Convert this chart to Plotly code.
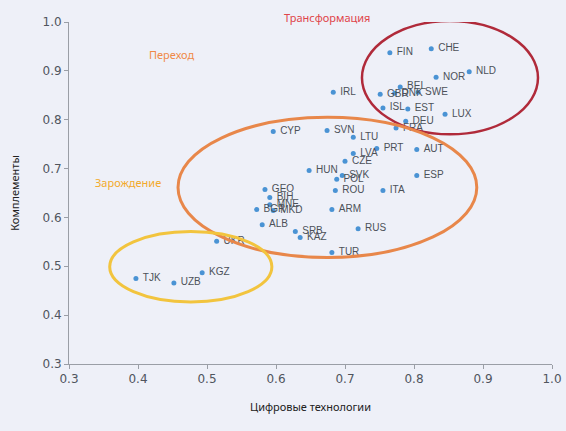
import plotly.graph_objects as go

countries = ["FIN", "CHE", "NLD", "NOR", "BEL", "SWE", "DNK", "GBR", "ISL", "EST",
             "LUX", "DEU", "FRA", "IRL", "CYP", "SVN", "LTU", "LVA", "PRT", "AUT",
             "CZE", "HUN", "SVK", "POL", "ESP", "ROU", "ITA", "ARM", "RUS", "TUR",
             "SRB", "KAZ", "ALB", "UKR", "KGZ", "TJK", "UZB", "GEO", "BIH", "MNE",
             "BGR", "MKD"]
digital = [0.765, 0.825, 0.880, 0.832, 0.780, 0.806, 0.772, 0.751, 0.755, 0.791,
           0.845, 0.788, 0.774, 0.683, 0.596, 0.674, 0.712, 0.712, 0.746, 0.804,
           0.700, 0.648, 0.696, 0.688, 0.804, 0.686, 0.755, 0.681, 0.719, 0.681,
           0.628, 0.635, 0.580, 0.514, 0.493, 0.397, 0.452, 0.584, 0.591, 0.591,
           0.572, 0.596]
complements = [0.937, 0.945, 0.898, 0.887, 0.867, 0.856, 0.854, 0.852, 0.824, 0.822,
               0.811, 0.797, 0.783, 0.856, 0.776, 0.778, 0.764, 0.731, 0.741, 0.739,
               0.715, 0.696, 0.686, 0.678, 0.686, 0.655, 0.655, 0.616, 0.577, 0.528,
               0.571, 0.559, 0.585, 0.551, 0.487, 0.475, 0.466, 0.657, 0.641, 0.626,
               0.616, 0.614]
ticks = [0.3, 0.4, 0.5, 0.6, 0.7, 0.8, 0.9, 1.0]
tick_text = ["0.3", "0.4", "0.5", "0.6", "0.7", "0.8", "0.9", "1.0"]

stages = ["Трансформация", "Переход", "Зарождение"]
stage_colors = ["#e0454a", "#f08a48", "#f3aa2c"]

bg = "#eef0f8"
fig = go.Figure()
fig.add_trace(go.Scatter(
    x=digital, y=complements, mode="markers+text",
    text=["\u00a0" + c for c in countries], textposition="middle right",
    textfont=dict(family="Liberation Sans", size=10, color="#4c5158"),
    marker=dict(size=5, color="#4a93d4"),
    cliponaxis=False, hoverinfo="skip", showlegend=False))

# ellipses
fig.add_shape(type="circle", xref="x", yref="y", x0=0.7246, x1=0.9797, y0=0.770, y1=1.002,
              line=dict(color="#b02a3a", width=2.5), layer="above")
fig.add_shape(type="circle", xref="x", yref="y", x0=0.458, x1=0.891, y0=0.518, y1=0.805,
              line=dict(color="#e8874a", width=3), layer="above")
fig.add_shape(type="circle", xref="x", yref="y", x0=0.359, x1=0.594, y0=0.427, y1=0.571,
              line=dict(color="#f2c43e", width=3), layer="above")

fig.add_annotation(text=stages[0], xref="paper", yref="paper", x=0.534, y=1.012,
                   xanchor="center", yanchor="middle",
                   showarrow=False, font=dict(family="Noto Sans", size=11, color=stage_colors[0]))
fig.add_annotation(text=stages[1], xref="x", yref="y", x=0.448, y=0.934,
                   showarrow=False, font=dict(family="Noto Sans", size=11, color=stage_colors[1]))
fig.add_annotation(text=stages[2], xref="x", yref="y", x=0.386, y=0.672,
                   showarrow=False, font=dict(family="Noto Sans", size=11, color=stage_colors[2]))

axis_common = dict(range=[0.3, 1.0], tickvals=ticks, ticktext=tick_text, showgrid=False,
                   zeroline=False, showline=True, linecolor="#9a9ea6", linewidth=1,
                   ticks="outside", ticklen=4, tickcolor="#9a9ea6", automargin=False,
                   tickfont=dict(family="DejaVu Sans", size=12, color="#50555e"))
fig.update_xaxes(**axis_common, title=dict(text="Цифровые технологии", standoff=17,
                 font=dict(family="Noto Sans", size=11, color="#222")))
fig.update_yaxes(**axis_common, title=dict(text="Комплементы", standoff=20,
                 font=dict(family="Noto Sans", size=11, color="#222")))
fig.update_layout(width=566, height=431, paper_bgcolor=bg, plot_bgcolor=bg,
                  margin=dict(l=69, r=14, t=22, b=67), showlegend=False)
fig.write_html("out.html", config={"displayModeBar": False},
               post_script="document.body.style.margin='0';"
                           "document.body.style.background='#eef0f8';"
                           "document.body.style.overflow='hidden';")
